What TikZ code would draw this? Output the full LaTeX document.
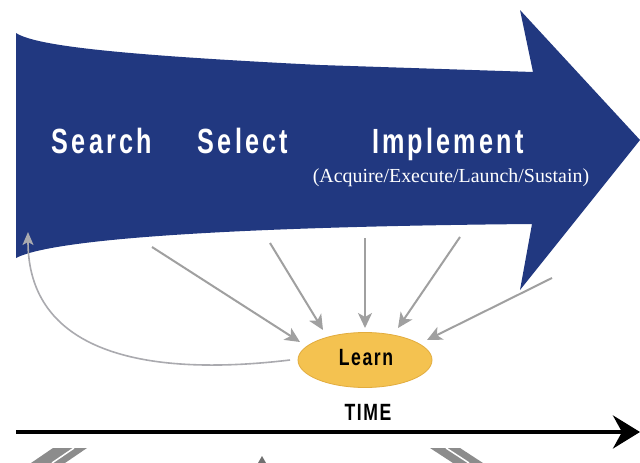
\documentclass[tikz,border=0pt]{standalone}
\usepackage{fontspec}
\usepackage{graphicx}
\setmainfont{Liberation Serif}
\newfontfamily\headfont[LetterSpace=12.7]{Liberation Sans}
\newfontfamily\smallhead[LetterSpace=9]{Liberation Sans}
\usetikzlibrary{arrows.meta,shapes.geometric}
\definecolor{navy}{RGB}{33,56,128}
\definecolor{learnfill}{RGB}{244,194,80}
\definecolor{learnedge}{RGB}{226,172,62}
\definecolor{arrgray}{RGB}{160,160,160}
\definecolor{retgray}{RGB}{170,170,175}
\definecolor{bandgray}{RGB}{140,140,140}
\newcommand{\cnd}[2]{\scalebox{#1}[1]{#2}}
\begin{document}
\begin{tikzpicture}[x=1pt,y=-1pt,
  headtxt/.style={text=white, font=\headfont\bfseries\fontsize{35}{35}\selectfont, anchor=base, inner sep=0pt},
  subtxt/.style={text=white, font=\fontsize{19.9}{20}\selectfont, anchor=base, inner sep=0pt},
  smalltxt/.style={text=black, font=\smallhead\bfseries\fontsize{23.5}{23.5}\selectfont, inner sep=0pt},
  grayarr/.style={draw=arrgray, line width=2pt, -{Stealth[length=15pt,width=14pt,inset=4pt]}},
  retarr/.style={draw=retgray, line width=1.6pt, -{Stealth[length=13pt,width=11pt,inset=3pt]}},
  timearr/.style={draw=black, line width=4pt, -{Stealth[length=27pt,width=33pt,inset=9pt]}},
  band/.style={fill=bandgray, draw=none}]
\useasboundingbox (0,0) rectangle (640,463);
\fill[white] (0,0) rectangle (640,463);

% big blue arrow
\fill[navy] (16,33) .. controls (36,46) and (120,55) .. (320,65)
  -- (533,72) -- (520,10) -- (640,140) -- (520,290) -- (532,224)
  .. controls (300,226) and (60,235) .. (16,258) -- cycle;

% labels in arrow
\node[headtxt] (search) at (102,153) {\cnd{0.72}{Search}};
\node[headtxt] (select) at (243,153) {\cnd{0.72}{Select}};
\node[headtxt] (implement) at (448,153) {\cnd{0.72}{Implement}};
\node[subtxt] (sub) at (451,182) {(Acquire/Execute/Launch/Sustain)};

% learn
\node[ellipse, fill=learnfill, draw=learnedge, line width=0.8pt,
  minimum width=134pt, minimum height=55pt, inner sep=0pt] (learn) at (365,360) {};
\node[smalltxt, anchor=base] (learntxt) at (366,365) {\cnd{0.75}{Learn}};

% arrow start/end coordinates
\coordinate (a1s) at (152,247); \coordinate (a1e) at (300,342);
\coordinate (a2s) at (270,243); \coordinate (a2e) at (323,330);
\coordinate (a3s) at (365,238); \coordinate (a3e) at (365,328);
\coordinate (a4s) at (460,237); \coordinate (a4e) at (398,328);
\coordinate (a5s) at (552,278); \coordinate (a5e) at (427,340);
\draw[grayarr] (a1s) -- (a1e);
\draw[grayarr] (a2s) -- (a2e);
\draw[grayarr] (a3s) -- (a3e);
\draw[grayarr] (a4s) -- (a4e);
\draw[grayarr] (a5s) -- (a5e);

% return arrow
\coordinate (rs) at (290,360);
\coordinate (re) at (28,232);
\draw[retarr] (rs) .. controls (140,378) and (28,350) .. (re);

% time axis
\coordinate (t0) at (16,432);
\coordinate (t1) at (640,432);
\draw[timearr] (t0) -- (t1);
\node[smalltxt, anchor=base] (time) at (368,420) {\cnd{0.75}{TIME}};

% cut-off shapes at the bottom edge
\fill[band] (53,448) -- (87,448) -- (65,463) -- (31,463) -- cycle;
\draw[white, line width=1.5pt] (74,448) -- (52,463);
\fill[bandgray!80!black] (262,456) -- (266,463) -- (258,463) -- cycle;
\fill[band] (430,448) -- (460,448) -- (483,463) -- (453,463) -- cycle;
\draw[white, line width=1.5pt] (446,448) -- (469,463);
\end{tikzpicture}
\end{document}
